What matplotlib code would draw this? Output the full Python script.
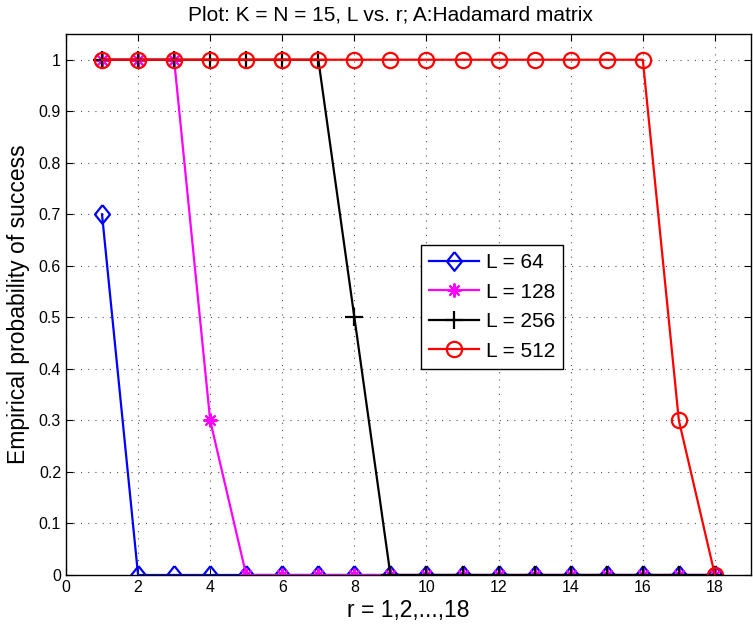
import matplotlib
matplotlib.use("Agg")
import matplotlib.pyplot as plt

plt.rcParams['font.family'] = ['Liberation Sans', 'DejaVu Sans']

# data
r = list(range(1, 19))
p64 = [0.7] + [0] * 17
p128 = [1, 1, 1, 0.3] + [0] * 14
p256 = [1] * 7 + [0.5] + [0] * 10
p512 = [1] * 16 + [0.3, 0]

# matlab-ish diamond (taller than wide)
diamond = [(0, 1), (0.8, 0), (0, -1), (-0.8, 0), (0, 1)]

fig = plt.figure(figsize=(7.53, 6.28), dpi=100)
ax = fig.add_axes([0.0876, 0.0844, 0.9097, 0.8615])

ax.plot(r, p64, color='blue', marker=diamond, markersize=13.5, markerfacecolor='none',
        markeredgewidth=1.6, linewidth=1.6, label='L = 64')
ax.plot(r, p128, color='magenta', marker=(8, 2, 0), markersize=10,
        markeredgewidth=1.5, linewidth=1.6, label='L = 128')
ax.plot(r, p256, color='black', marker='+', markersize=13,
        markeredgewidth=1.6, linewidth=1.6, label='L = 256')
ax.plot(r, p512, color='red', marker='o', markersize=11, markerfacecolor='none',
        markeredgewidth=1.6, linewidth=1.6, label='L = 512')

ax.set_xlim(0, 19)
ax.set_ylim(0, 1.05)
ax.set_xticks(range(0, 19, 2))
ax.set_yticks([i / 10 for i in range(11)])
ax.set_yticklabels(['0', '0.1', '0.2', '0.3', '0.4', '0.5', '0.6', '0.7', '0.8', '0.9', '1'])
ax.tick_params(direction='in', top=True, right=True, labelsize=11.5, length=5)
ax.grid(True, linestyle=(0, (1, 5.5)), color='#555555', linewidth=0.8)
for s in ax.spines.values():
    s.set_linewidth(1.0)

ax.set_xlabel('r = 1,2,...,18', fontsize=16.5, labelpad=3)
ax.set_ylabel('Empirical probability of success', fontsize=16.5, labelpad=6)
ax.set_title('Plot: K = N = 15, L vs. r; A:Hadamard matrix', fontsize=15, pad=9.5, x=0.474)

leg = ax.legend(loc='upper left', bbox_to_anchor=(0.5591, 0.6099),
                bbox_transform=fig.transFigure, borderaxespad=0, fontsize=15,
                fancybox=False, edgecolor='black', framealpha=1,
                handlelength=2.4, borderpad=0.4, labelspacing=0.5, handletextpad=0.3)
leg.get_frame().set_linewidth(1.0)

fig.savefig('out.png', dpi=100)
